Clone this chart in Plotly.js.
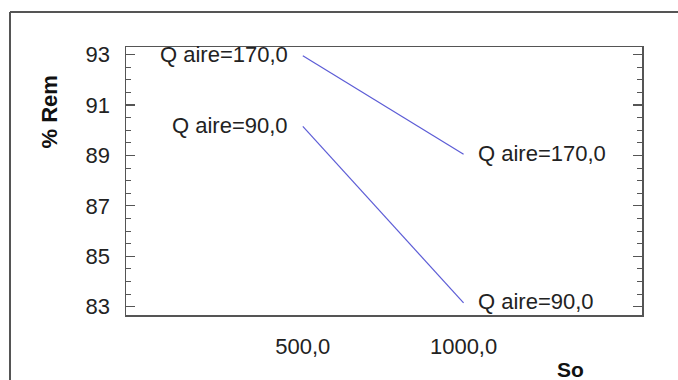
<!DOCTYPE html>
<html>
<head>
<meta charset="utf-8">
<script src="https://cdn.plot.ly/plotly-3.0.1.min.js"></script>
<style>
html,body{margin:0;padding:0;background:#fff;}
#chart{width:678px;height:380px;}
</style>
</head>
<body>
<div id="chart"></div>
<script>
// Data
const soValues = [500, 1000];
const remQ170 = [92.95, 89.05];
const remQ90 = [90.15, 83.15];
const seriesNames = ["Q aire=170,0", "Q aire=90,0"];
const xTickVals = [500, 1000];
const xTickText = ["500,0", "1000,0"];
const yTickVals = [83, 85, 87, 89, 91, 93];

const lineColor = "#5c5cd6";
const axisColor = "#555555";
const font = "Arial, 'Liberation Sans', sans-serif";

const traces = [
  {x: soValues, y: remQ170, mode: "lines", name: seriesNames[0],
   line: {color: lineColor, width: 1.2}, hoverinfo: "skip"},
  {x: soValues, y: remQ90, mode: "lines", name: seriesNames[1],
   line: {color: lineColor, width: 1.2}, hoverinfo: "skip"}
];

const series = [remQ170, remQ90];
const annotations = [];
series.forEach((ys, i) => {
  annotations.push({x: soValues[0], y: ys[0], xref: "x", yref: "y",
    text: seriesNames[i], showarrow: false, xanchor: "right", yanchor: "middle",
    xshift: -13, yshift: 1, font: {family: font, size: 22, color: "#222"}});
  annotations.push({x: soValues[1], y: ys[1], xref: "x", yref: "y",
    text: seriesNames[i], showarrow: false, xanchor: "left", yanchor: "middle",
    xshift: 12, yshift: 1, font: {family: font, size: 22, color: "#222"}});
});
annotations.push({x: -0.149, y: 0.756, xref: "paper", yref: "paper",
  text: "<b>% Rem</b>", textangle: -90, showarrow: false,
  xanchor: "center", yanchor: "middle",
  font: {family: font, size: 22, color: "#111"}});
annotations.push({x: 0.8605, y: -0.2015, xref: "paper", yref: "paper",
  text: "<b>So</b>", showarrow: false, xanchor: "center", yanchor: "middle",
  font: {family: font, size: 21, color: "#111"}});

const layout = {
  width: 678, height: 380,
  margin: {l: 126, r: 36, t: 47, b: 65, pad: 0},
  paper_bgcolor: "#ffffff", plot_bgcolor: "#ffffff",
  showlegend: false,
  xaxis: {
    range: [-50, 1555], showgrid: false, zeroline: false,
    showline: true, linecolor: axisColor, linewidth: 1.5, mirror: true,
    tickvals: xTickVals, ticktext: xTickText,
    ticks: "outside", ticklen: 11, tickcolor: "rgba(0,0,0,0)",
    tickfont: {family: font, size: 22, color: "#222"}
  },
  yaxis: {
    range: [82.67, 93.3], showgrid: false, zeroline: false,
    showline: true, linecolor: axisColor, linewidth: 1.5, mirror: "allticks",
    tickvals: yTickVals, ticks: "inside", ticklen: 9, tickwidth: 1.2, tickcolor: axisColor,
    ticklabelstandoff: 10,
    tickfont: {family: font, size: 22, color: "#222"},
    minor: {dtick: 0.5, ticks: "inside", ticklen: 5, tickwidth: 1, tickcolor: axisColor, showgrid: false}
  },
  annotations: annotations,
  shapes: [
    {type: "line", xref: "paper", yref: "paper", x0: -0.2248, x1: 1.2, y0: 1.1306, y1: 1.1306,
     line: {color: axisColor, width: 2}},
    {type: "line", xref: "paper", yref: "paper", x0: -0.2248, x1: -0.2248, y0: 1.1306, y1: -0.4,
     line: {color: axisColor, width: 2}}
  ]
};

Plotly.newPlot("chart", traces, layout, {staticPlot: true, displayModeBar: false});
</script>
</body>
</html>
